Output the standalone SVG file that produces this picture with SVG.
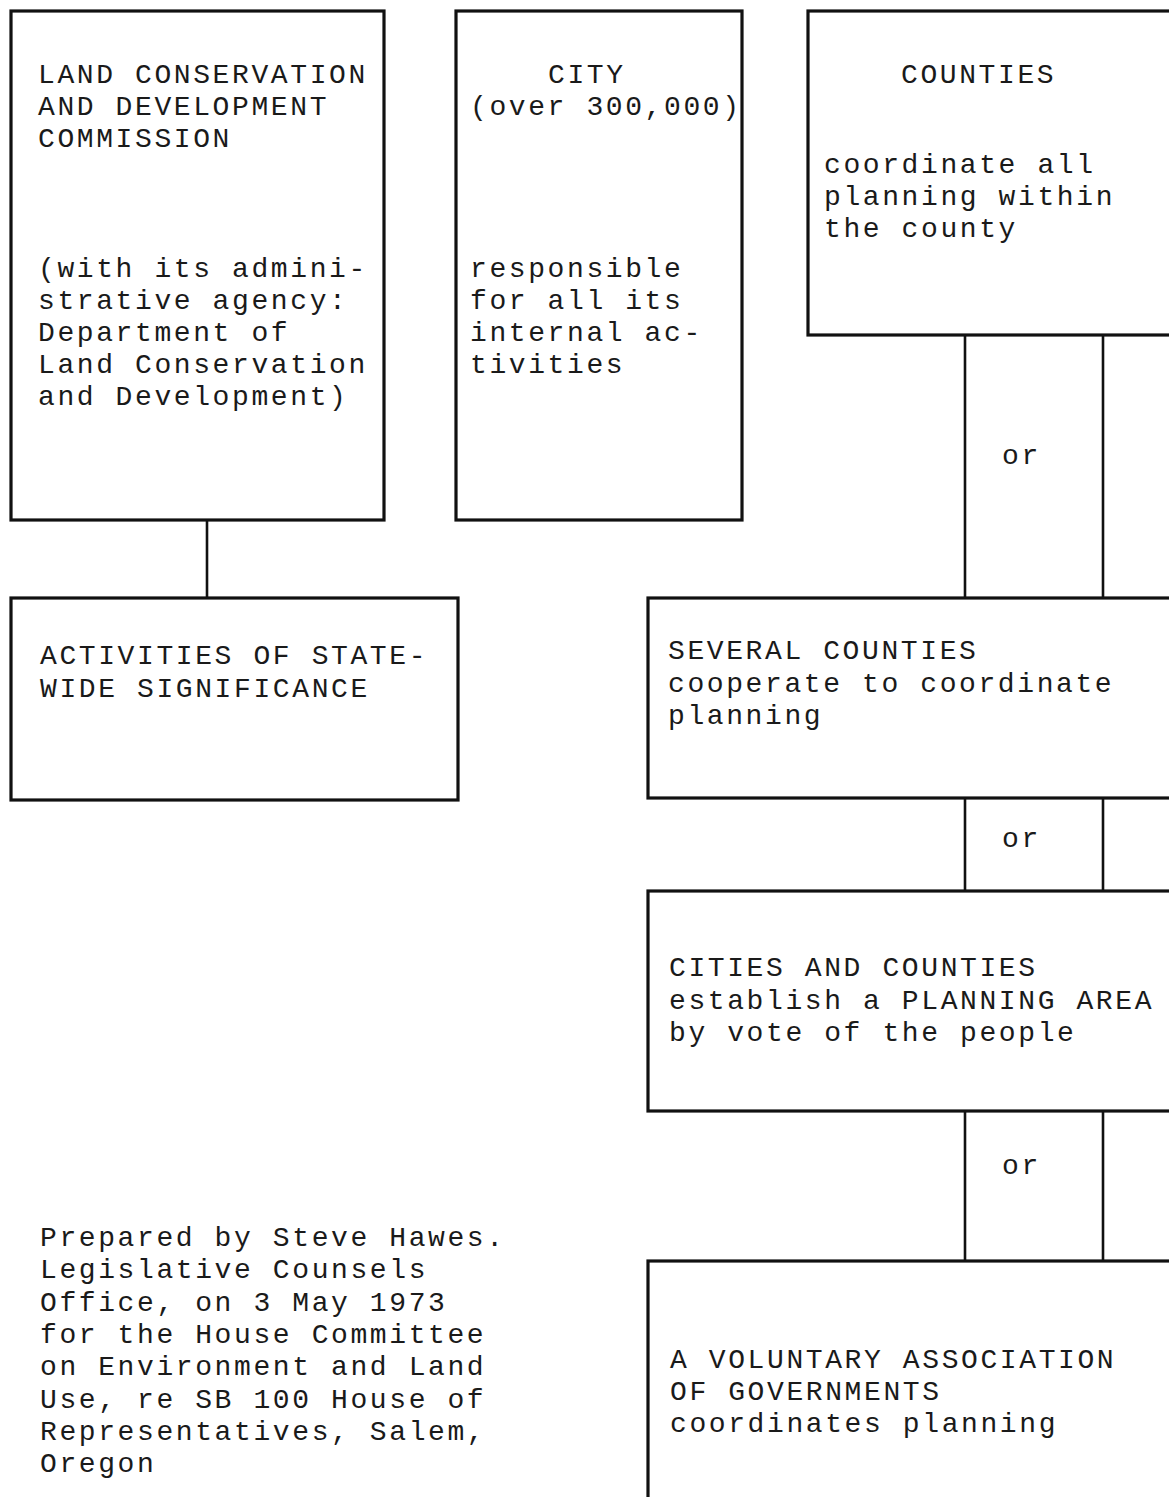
<svg xmlns="http://www.w3.org/2000/svg" width="1169" height="1497" viewBox="0 0 1169 1497">
<style>
.box{fill:none;stroke:#111;stroke-width:3.2}
.ln{fill:none;stroke:#111;stroke-width:2.6}
text{font-family:"Liberation Mono","DejaVu Sans Mono",monospace;font-size:28px;letter-spacing:2.6px;fill:#1a1a1a}
</style>
<rect width="1169" height="1497" fill="#fff"/>
<g id="connectors">
<line class="ln" x1="207" y1="520" x2="207" y2="598"/>
<line class="ln" x1="965" y1="335" x2="965" y2="598"/>
<line class="ln" x1="1103" y1="335" x2="1103" y2="598"/>
<line class="ln" x1="965" y1="798" x2="965" y2="891"/>
<line class="ln" x1="1103" y1="798" x2="1103" y2="891"/>
<line class="ln" x1="965" y1="1111" x2="965" y2="1261"/>
<line class="ln" x1="1103" y1="1111" x2="1103" y2="1261"/>
<text x="1002" y="464">or</text>
<text x="1002" y="847">or</text>
<text x="1002" y="1174">or</text>
</g>
<g id="lcdc">
<rect class="box" x="11" y="11" width="373" height="509"/>
<text x="38" y="83">LAND CONSERVATION</text>
<text x="38" y="115">AND DEVELOPMENT</text>
<text x="38" y="147">COMMISSION</text>
<text x="38" y="277">(with its admini-</text>
<text x="38" y="309">strative agency:</text>
<text x="38" y="341">Department of</text>
<text x="38" y="373">Land Conservation</text>
<text x="38" y="405">and Development)</text>
</g>
<g id="city">
<rect class="box" x="456" y="11" width="286" height="509"/>
<text x="548" y="83">CITY</text>
<text x="470" y="115">(over 300,000)</text>
<text x="470" y="277">responsible</text>
<text x="470" y="309">for all its</text>
<text x="470" y="341">internal ac-</text>
<text x="470" y="373">tivities</text>
</g>
<g id="counties">
<rect class="box" x="808" y="11" width="400" height="324"/>
<text x="901" y="83">COUNTIES</text>
<text x="824" y="173">coordinate all</text>
<text x="824" y="205">planning within</text>
<text x="824" y="237">the county</text>
</g>
<g id="statewide">
<rect class="box" x="11" y="598" width="447" height="202"/>
<text x="40" y="664">ACTIVITIES OF STATE-</text>
<text x="40" y="697">WIDE SIGNIFICANCE</text>
</g>
<g id="several">
<rect class="box" x="648" y="598" width="560" height="200"/>
<text x="668" y="659">SEVERAL COUNTIES</text>
<text x="668" y="692">cooperate to coordinate</text>
<text x="668" y="724">planning</text>
</g>
<g id="planningarea">
<rect class="box" x="648" y="891" width="560" height="220"/>
<text x="669" y="976">CITIES AND COUNTIES</text>
<text x="669" y="1009">establish a PLANNING AREA</text>
<text x="669" y="1041">by vote of the people</text>
</g>
<g id="voluntary">
<rect class="box" x="648" y="1261" width="560" height="300"/>
<text x="670" y="1368">A VOLUNTARY ASSOCIATION</text>
<text x="670" y="1400">OF GOVERNMENTS</text>
<text x="670" y="1432">coordinates planning</text>
</g>
<g id="note">
<text x="40" y="1246">Prepared by Steve Hawes.</text>
<text x="40" y="1278">Legislative Counsels</text>
<text x="40" y="1311">Office, on 3 May 1973</text>
<text x="40" y="1343">for the House Committee</text>
<text x="40" y="1375">on Environment and Land</text>
<text x="40" y="1408">Use, re SB 100 House of</text>
<text x="40" y="1440">Representatives, Salem,</text>
<text x="40" y="1472">Oregon</text>
</g>
</svg>
